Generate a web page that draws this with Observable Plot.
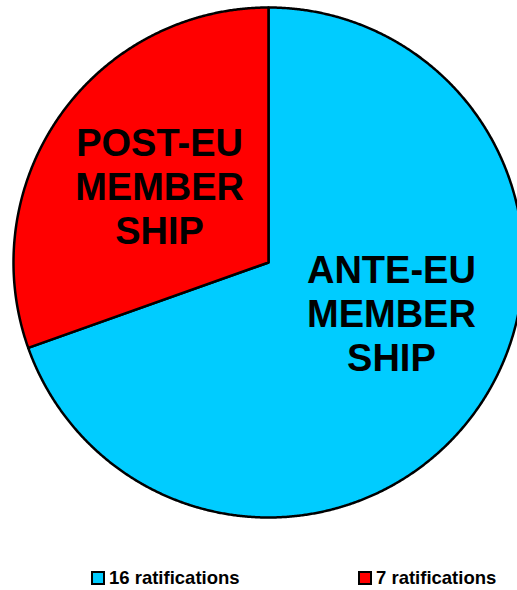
<!DOCTYPE html>
<html><head><meta charset="utf-8">
<script src="https://cdn.jsdelivr.net/npm/d3@7"></script>
<script src="https://cdn.jsdelivr.net/npm/@observablehq/plot@0.6"></script>
<style>
body{margin:0;background:#fff;font-family:"Liberation Sans",Arial,sans-serif}
#wrap{position:relative;width:517px;height:590px;overflow:hidden}
#chart svg{display:block}
.leg{position:absolute;top:567px;font-weight:bold;font-size:18.5px;display:flex;align-items:center;white-space:nowrap}
.sw{width:10px;height:10px;border:2px solid #000;margin-right:4px}
</style></head><body><div id="wrap"><div id="chart"></div><div id="legend"></div></div>
<script>
const categories = ["ANTE-EU MEMBERSHIP", "POST-EU MEMBERSHIP"];
const sliceLabels = ["ANTE-EU\nMEMBER\nSHIP", "POST-EU\nMEMBER\nSHIP"];
const values = [16, 7];
const colors = ["#00CCFF", "#FF0000"];
const legendLabels = ["16 ratifications", "7 ratifications"];

const W = 517, H = 540, R = 255, CX = 268, CY = 262;

const arcs = d3.pie().sort(null).value(d => d)(values);
const slices = arcs.map((a, i) => {
  const pts = [{x: 0, y: 0}];
  const n = Math.max(2, Math.ceil((a.endAngle - a.startAngle) / 0.005));
  for (let k = 0; k <= n; k++) {
    const t = a.startAngle + (a.endAngle - a.startAngle) * k / n;
    pts.push({x: Math.sin(t), y: Math.cos(t)});
  }
  return {cat: categories[i], pts};
});

const plot = Plot.plot({
  width: W, height: H,
  margin: 0,
  x: {domain: [-CX / R, (W - CX) / R], axis: null},
  y: {domain: [-(H - CY) / R, CY / R], axis: null},
  marks: [
    ...slices.map((s, i) => Plot.line(s.pts, {
      x: "x", y: "y", fill: colors[i], stroke: "black", strokeWidth: 2.5,
      curve: "linear-closed", strokeLinejoin: "round"
    })),
    Plot.text([sliceLabels[0]], {x: 0.482, y: -0.196, text: d => d,
      fontSize: 38, fontWeight: "bold", fontFamily: "Liberation Sans, Arial, sans-serif",
      lineHeight: 44 / 38, fill: "black", textAnchor: "middle"}),
    Plot.text([sliceLabels[1]], {x: -0.427, y: 0.300, text: d => d,
      fontSize: 38, fontWeight: "bold", fontFamily: "Liberation Sans, Arial, sans-serif",
      lineHeight: 44 / 38, fill: "black", textAnchor: "middle"})
  ]
});
document.getElementById("chart").appendChild(plot);

const lefts = [91, 358];
const leg = document.getElementById("legend");
legendLabels.forEach((t, i) => {
  const d = document.createElement("div");
  d.className = "leg";
  d.style.left = lefts[i] + "px";
  d.innerHTML = `<span class="sw" style="background:${colors[i]}"></span><span>${t}</span>`;
  leg.appendChild(d);
});
</script></body></html>
